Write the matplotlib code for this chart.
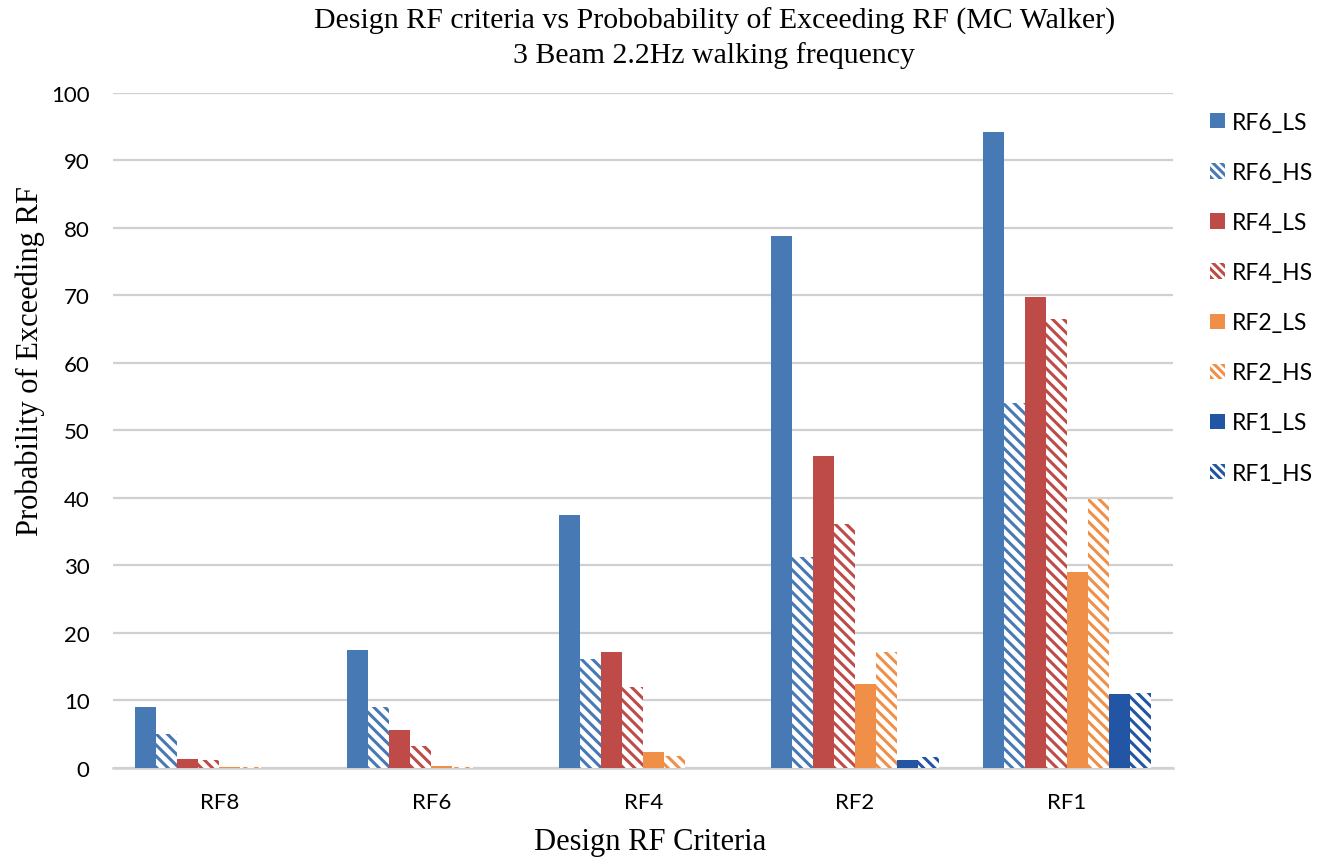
import matplotlib
matplotlib.use("Agg")
import matplotlib.pyplot as plt
import numpy as np
from matplotlib.patches import Patch

categories = ["RF8", "RF6", "RF4", "RF2", "RF1"]
series_names = ["RF6_LS", "RF6_HS", "RF4_LS", "RF4_HS", "RF2_LS", "RF2_HS", "RF1_LS", "RF1_HS"]

rf6_ls = [9.0, 17.5, 37.5, 78.8, 94.2]
rf6_hs = [5.0, 9.0, 16.1, 31.3, 54.0]
rf4_ls = [1.3, 5.6, 17.2, 46.2, 69.8]
rf4_hs = [1.1, 3.3, 12.0, 36.1, 66.5]
rf2_ls = [0.2, 0.3, 2.3, 12.5, 29.0]
rf2_hs = [0.1, 0.1, 1.7, 17.2, 39.9]
rf1_ls = [0.0, 0.0, 0.0, 1.1, 10.9]
rf1_hs = [0.0, 0.0, 0.0, 1.6, 11.1]

series_values = [rf6_ls, rf6_hs, rf4_ls, rf4_hs, rf2_ls, rf2_hs, rf1_ls, rf1_hs]
colors = ["#4779B5", "#4779B5", "#BE4B48", "#BE4B48", "#F08F47", "#F08F47", "#2255A4", "#2255A4"]
hatched = [False, True, False, True, False, True, False, True]

plt.rcParams["hatch.linewidth"] = 2.2

fig = plt.figure(figsize=(13.33, 8.62), dpi=100)
ax = fig.add_axes([0.085, 0.108, 0.795, 0.783])

x = np.arange(len(categories))
bw = 0.099
n = len(series_names)
handles = []
for i, (name, vals, c, h) in enumerate(zip(series_names, series_values, colors, hatched)):
    pos = x + (i - (n - 1) / 2) * bw
    if h:
        ax.bar(pos, vals, bw, facecolor="white", edgecolor=c, hatch="\\\\\\", linewidth=0, zorder=3)
        handles.append(Patch(facecolor="white", edgecolor=c, hatch="\\\\\\\\", linewidth=0, label=name))
    else:
        ax.bar(pos, vals, bw, color=c, linewidth=0, zorder=3)
        handles.append(Patch(facecolor=c, edgecolor=c, linewidth=0, label=name))

ax.set_xlim(-0.5, len(categories) - 0.5)
ax.set_ylim(0, 100)
ax.set_yticks(np.arange(0, 101, 10))
ax.set_xticks(x)
ax.set_xticklabels(categories)
ax.yaxis.grid(True, color="#d0d0d0", linewidth=1.6, zorder=0)
ax.set_axisbelow(True)
for s in ["top", "right", "left"]:
    ax.spines[s].set_visible(False)
ax.spines["bottom"].set_color("#d0d0d0")
ax.spines["bottom"].set_linewidth(1.8)
ax.tick_params(axis="both", length=0, labelsize=16)
ax.tick_params(axis="y", pad=17)
ax.tick_params(axis="x", pad=17)
for lab in ax.get_xticklabels() + ax.get_yticklabels():
    lab.set_fontfamily("Lato")

serif = "Liberation Serif"
ax.set_xlabel("Design RF Criteria", fontsize=22, family=serif)
ax.xaxis.set_label_coords(0.507, -0.088)
ax.set_ylabel("Probability of Exceeding RF", fontsize=22, family=serif)
ax.yaxis.set_label_coords(-0.064, 0.604)
fig.suptitle("Design RF criteria vs Probobability of Exceeding RF (MC Walker)\n3 Beam 2.2Hz walking frequency",
             fontsize=21.5, family=serif, x=0.536, y=0.991, linespacing=1.33)

leg = fig.legend(handles=handles, loc="upper left", bbox_to_anchor=(0.892, 0.893), frameon=False,
                 handlelength=0.65, handleheight=0.65, handletextpad=0.3,
                 labelspacing=1.27, prop={"family": "Lato", "size": 16.5})

fig.savefig("out.png", dpi=100)
